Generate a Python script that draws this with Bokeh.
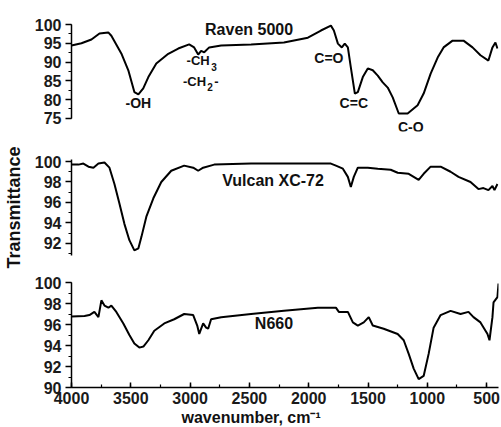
from bokeh.plotting import figure
from bokeh.layouts import column
from bokeh.models import Range1d, SingleIntervalTicker, Label, Title
from bokeh.embed import file_html
from bokeh.resources import INLINE

# ---- data (wavenumber cm^-1, transmittance %) ----
raven_w = [4000, 3916, 3832, 3764, 3690, 3664, 3580, 3521, 3470, 3436, 3395, 3352, 3285, 3184,
           3100, 3008, 2966, 2932, 2907, 2881, 2839, 2738, 2486, 2209, 2007, 1897, 1813, 1788,
           1754, 1721, 1696, 1670, 1645, 1611, 1586, 1544, 1502, 1460, 1418, 1376, 1334, 1292,
           1241, 1166, 1082, 1031, 972, 913, 863, 787, 695, 619, 552, 485, 451, 426, 409]
raven_t = [94.4, 95.0, 96.0, 97.6, 97.9, 97.0, 92.3, 87.8, 82.0, 81.4, 83.0, 86.0, 89.6, 92.2,
           93.6, 94.7, 93.9, 92.0, 93.0, 92.6, 93.9, 94.4, 94.7, 95.2, 96.5, 98.4, 99.7, 98.4,
           94.9, 93.9, 94.9, 93.9, 88.6, 81.6, 82.0, 86.0, 88.3, 87.8, 86.4, 84.6, 83.2, 80.6,
           76.3, 76.3, 78.5, 81.6, 86.9, 91.2, 93.9, 95.7, 95.7, 93.9, 91.8, 90.4, 93.9, 95.2, 93.6]

vulcan_w = [4000, 3941, 3900, 3857, 3815, 3773, 3722, 3680, 3638, 3596, 3554, 3512, 3470, 3436,
            3411, 3369, 3310, 3243, 3159, 3050, 2974, 2932, 2890, 2797, 2486, 1813, 1771, 1712,
            1670, 1645, 1620, 1586, 1502, 1418, 1309, 1250, 1157, 1073, 1031, 972, 888, 804, 737,
            636, 569, 527, 485, 451, 434, 409]
vulcan_t = [99.7, 99.7, 99.8, 99.5, 99.4, 99.8, 99.9, 99.4, 97.8, 95.9, 93.9, 92.3, 91.3, 91.5,
            92.6, 94.6, 96.4, 98.0, 99.1, 99.6, 99.4, 99.1, 99.4, 99.7, 99.8, 99.8, 99.6, 99.3,
            98.5, 97.5, 98.5, 99.4, 99.4, 99.3, 99.2, 98.9, 98.8, 98.2, 98.8, 99.5, 99.5, 99.0, 98.5,
            98.0, 97.3, 97.4, 97.2, 97.6, 97.2, 97.8]

n660_w = [4000, 3890, 3849, 3807, 3773, 3748, 3722, 3689, 3664, 3622, 3563, 3512, 3470, 3428,
          3394, 3352, 3302, 3218, 3134, 3050, 2974, 2940, 2923, 2890, 2865, 2848, 2823, 2738,
          2486, 2209, 1923, 1771, 1746, 1670, 1628, 1586, 1536, 1494, 1460, 1368, 1250, 1199,
          1157, 1115, 1073, 1031, 989, 947, 888, 804, 720, 653, 611, 552, 493, 476, 451, 442, 409, 400]
n660_t = [96.76, 96.8, 96.9, 97.2, 96.7, 98.3, 97.8, 97.6, 97.8, 97.2, 96.1, 95.0, 94.2, 93.8,
          93.9, 94.5, 95.4, 96.1, 96.5, 97.0, 96.9, 95.9, 95.1, 96.1, 95.7, 95.6, 96.5, 96.7,
          97.0, 97.3, 97.6, 97.6, 97.2, 97.2, 96.2, 95.9, 96.2, 96.7, 95.9, 95.6, 95.1, 94.5,
          93.2, 91.8, 90.8, 91.1, 93.2, 95.7, 96.9, 97.3, 97.0, 97.2, 96.7, 96.2, 95.1, 94.5, 96.7, 98.1, 98.6, 99.9]

FONT = "Liberation Sans"
W = 501
x_range = Range1d(4000, 400)


def make_panel(height, top, bottom, y0, y1, bounds, interval, show_x):
    p = figure(width=W, height=height, x_range=x_range, y_range=Range1d(y0, y1),
               output_backend="svg", toolbar_location=None,
               min_border_left=70, min_border_right=3,
               min_border_top=top, min_border_bottom=bottom)
    p.outline_line_color = None
    p.grid.visible = False
    p.background_fill_color = "white"
    p.border_fill_color = "white"
    ya = p.yaxis[0]
    ya.bounds = bounds
    ya.ticker = SingleIntervalTicker(interval=interval, num_minor_ticks=2)
    ya.major_tick_out = 6
    ya.major_tick_in = 0
    ya.minor_tick_out = 3
    ya.minor_tick_in = 0
    ya.axis_line_width = 1.5
    ya.major_tick_line_width = 1.5
    ya.minor_tick_line_width = 1.2
    ya.major_label_text_font = FONT
    ya.major_label_text_font_style = "bold"
    ya.major_label_text_font_size = "16px"
    ya.major_label_text_color = "#1a1a1a"
    ya.major_label_standoff = 4
    xa = p.xaxis[0]
    if show_x:
        xa.ticker = SingleIntervalTicker(interval=500, num_minor_ticks=2)
        xa.major_tick_in = 5
        xa.major_tick_out = 0
        xa.minor_tick_in = 3
        xa.minor_tick_out = 0
        xa.axis_line_width = 1.5
        xa.major_tick_line_width = 1.5
        xa.minor_tick_line_width = 1.2
        xa.major_label_text_font = FONT
        xa.major_label_text_font_style = "bold"
        xa.major_label_text_font_size = "16px"
        xa.major_label_text_color = "#1a1a1a"
        xa.major_label_standoff = 4
    else:
        xa.visible = False
    return p


def lab(p, x, y, text, size="14px", align="center", baseline="middle"):
    p.add_layout(Label(x=x, y=y, text=text, text_font=FONT, text_font_style="bold",
                       text_font_size=size, text_align=align, text_baseline=baseline,
                       text_color="#111111"))


p1 = make_panel(140, 18, 9, 71.5, 101.6, (75, 100), 5, False)
p1.line(raven_w, raven_t, line_color="black", line_width=2)
lab(p1, 2503, 98.6, "Raven 5000", "16px")
lab(p1, 3436, 79.0, "-OH")
lab(p1, 3030, 90.3, "-CH", size="13px", align="left")
lab(p1, 2822, 88.7, "3", size="10px", align="left")
lab(p1, 3060, 84.8, "-CH", size="13px", align="left")
lab(p1, 2856, 83.3, "2", size="10px", align="left")
lab(p1, 2797, 84.8, "-", size="13px", align="left")
lab(p1, 1830, 91.2, "C=O")
lab(p1, 1620, 79.0, "C=C")
lab(p1, 1140, 72.8, "C-O")

p2 = make_panel(130, 19, 15, 90.8, 100.2, "auto", 2, False)
p2.line(vulcan_w, vulcan_t, line_color="black", line_width=2)
lab(p2, 2301, 98.15, "Vulcan XC-72", "16px")
ya2 = p2.yaxis[0]
ya2.axis_label = "Transmittance"
ya2.axis_label_text_font = FONT
ya2.axis_label_text_font_style = "bold"
ya2.axis_label_text_font_size = "18px"
ya2.axis_label_text_color = "#111111"
ya2.axis_label_standoff = 8

p3 = make_panel(157, 12, 40, 90, 100, "auto", 2, True)
p3.line(n660_w, n660_t, line_color="black", line_width=2)
lab(p3, 2293, 96.1, "N660", "16px")
p3.add_layout(Title(text="wavenumber, cm\u207b\u00b9", align="left", offset=110,
                    text_font=FONT, text_font_style="bold", text_font_size="16px",
                    text_color="#111111", standoff=0), "below")

layout = column(p1, p2, p3, spacing=0)

open("out.html", "w").write(file_html(layout, INLINE))
